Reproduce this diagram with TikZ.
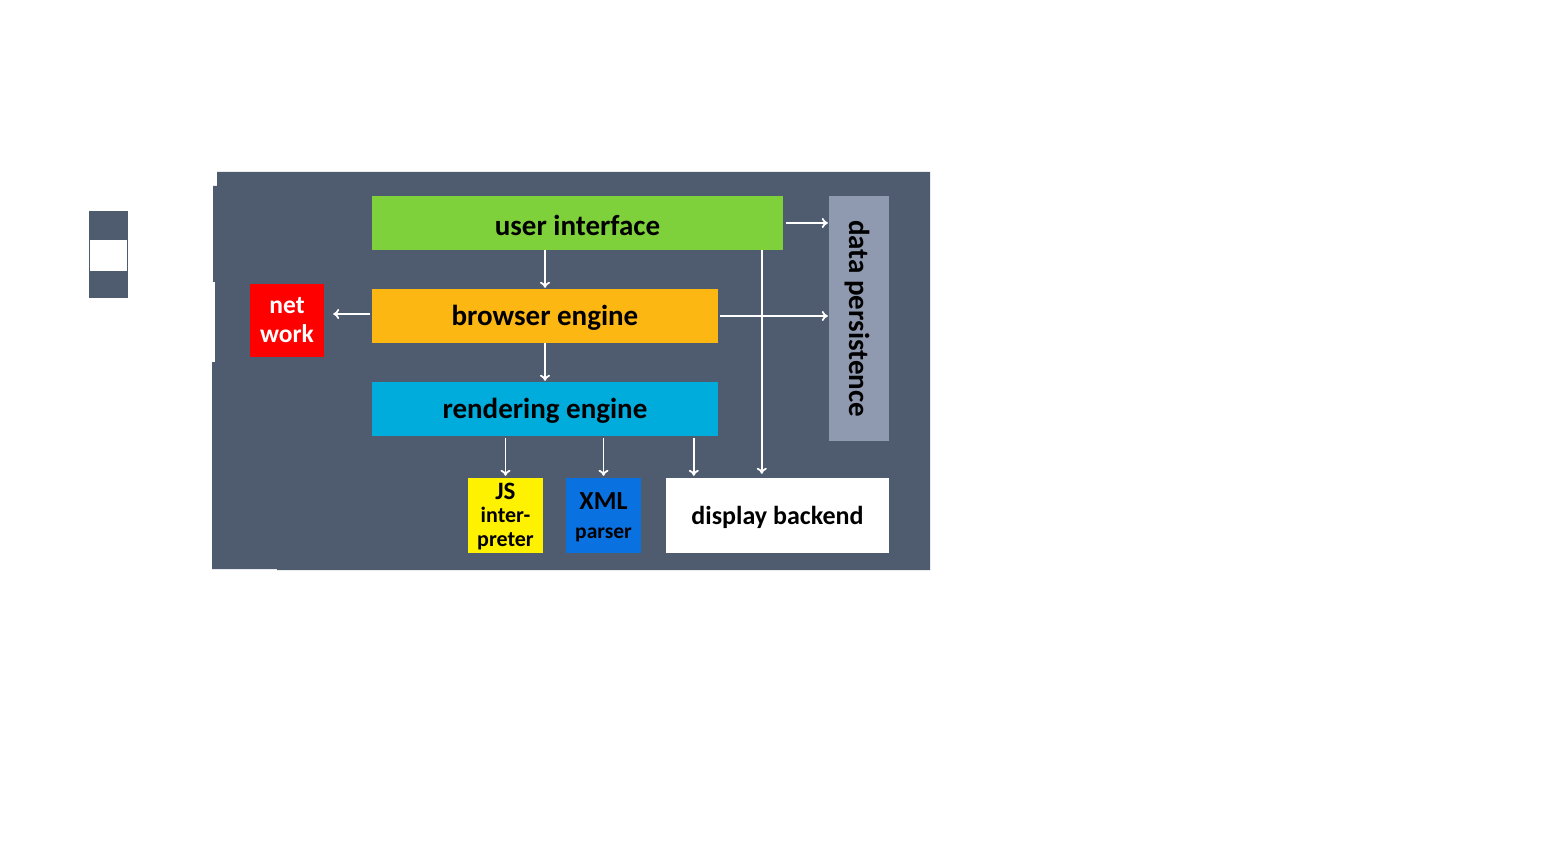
\documentclass[tikz,border=0pt]{standalone}
\usepackage{fontspec}
\setmainfont{Carlito}
\usetikzlibrary{arrows.meta}
\definecolor{bgc}{HTML}{4F5B6E}
\definecolor{uic}{HTML}{7FD13B}
\definecolor{bec}{HTML}{FDB713}
\definecolor{rec}{HTML}{00ACDC}
\definecolor{dpc}{HTML}{8F9AB0}
\definecolor{xmlc}{HTML}{0A72E0}
\tikzset{
  box/.style={inner sep=0pt, draw=none, align=center, font=\bfseries\fontsize{29}{30}\selectfont},
  arr/.style={draw=white, line width=1.8pt, -{To[length=6pt,width=10pt]}},
}
\begin{document}
\begin{tikzpicture}[x=1pt,y=-1pt]
\useasboundingbox (0,0) rectangle (1553,850);
\fill[white] (0,0) rectangle (1553,850);
% background panel
\fill[bgc] (217,172) -- (930,172) -- (930,570) -- (277,570) -- (277,569) -- (212,569) -- (212,362) -- (215,362) -- (215,282) -- (213,282) -- (213,186) -- (217,186) -- cycle;
% left small legend
\fill[bgc] (89,211) rectangle (128,298);
\fill[white] (90,240) rectangle (127,271);
% boxes
\node[box, fill=uic, minimum width=411pt, minimum height=54pt] (ui) at (577.5,223) {};
\node[box] (uit) at (577.5,225) {user interface};
\node[box, fill=bec, minimum width=346pt, minimum height=54pt] (be) at (545,316) {};
\node[box] (bet) at (545,318) {browser engine};
\node[box, fill=rec, minimum width=346pt, minimum height=54pt] (re) at (545,409) {};
\node[box] (ret) at (545,411) {rendering engine};
\node[box, fill=red, text=white, minimum width=74pt, minimum height=73pt, font=\bfseries\fontsize{25.5}{29}\selectfont] (nw) at (287,320.5) {net\\work};
\node[box, fill=dpc, minimum width=60pt, minimum height=245pt] (dp) at (859,318.5) {};
\node[rotate=-90, font=\bfseries\fontsize{29}{30}\selectfont, inner sep=0pt] (dpt) at (857,318.5) {data persistence};
\node[box, fill=yellow, minimum width=75pt, minimum height=75pt] (js) at (505.5,515.5) {};
\node[box, font=\bfseries\fontsize{22}{23.5}\selectfont] (jst) at (505.5,516.5) {\fontsize{25}{25}\selectfont JS\\inter-\\preter};
\node[box, fill=xmlc, minimum width=75pt, minimum height=75pt] (xml) at (603.5,515.5) {};
\node[box, font=\bfseries\fontsize{21.5}{29}\selectfont] (xmlt) at (603.5,517.5) {\fontsize{26}{26}\selectfont XML\\parser};
\node[box, fill=white, minimum width=223pt, minimum height=75pt] (db) at (777.5,515.5) {};
\node[box, font=\bfseries\fontsize{26}{28}\selectfont] (dbt) at (777.5,517.5) {display backend};
% helper coordinates
\coordinate (dbin1) at ([xshift=28pt]db.north west);
\coordinate (dbin2) at ([xshift=96pt]db.north west);
% arrows
\draw[arr, shorten <=3pt, shorten >=1pt] (ui.east) -- (ui.east -| dp.west);
\draw[arr, shorten >=1pt] (be.north |- ui.south) -- (be.north);
\draw[arr, shorten <=2pt, shorten >=9pt] ([yshift=2pt]be.west) -- ([yshift=2pt]be.west -| nw.east);
\draw[arr, shorten <=2pt, shorten >=1pt] (be.east) -- (be.east -| dp.west);
\draw[arr, shorten >=1pt] (be.south) -- (re.north);
\draw[arr, shorten <=2pt, shorten >=2pt] (js.north |- re.south) -- (js.north);
\draw[arr, shorten <=2pt, shorten >=2pt] (xml.north |- re.south) -- (xml.north);
\draw[arr, shorten <=2pt, shorten >=2pt] (re.south -| dbin1) -- (dbin1);
\draw[arr, shorten >=4pt] (ui.south -| dbin2) -- (dbin2);
\end{tikzpicture}
\end{document}
